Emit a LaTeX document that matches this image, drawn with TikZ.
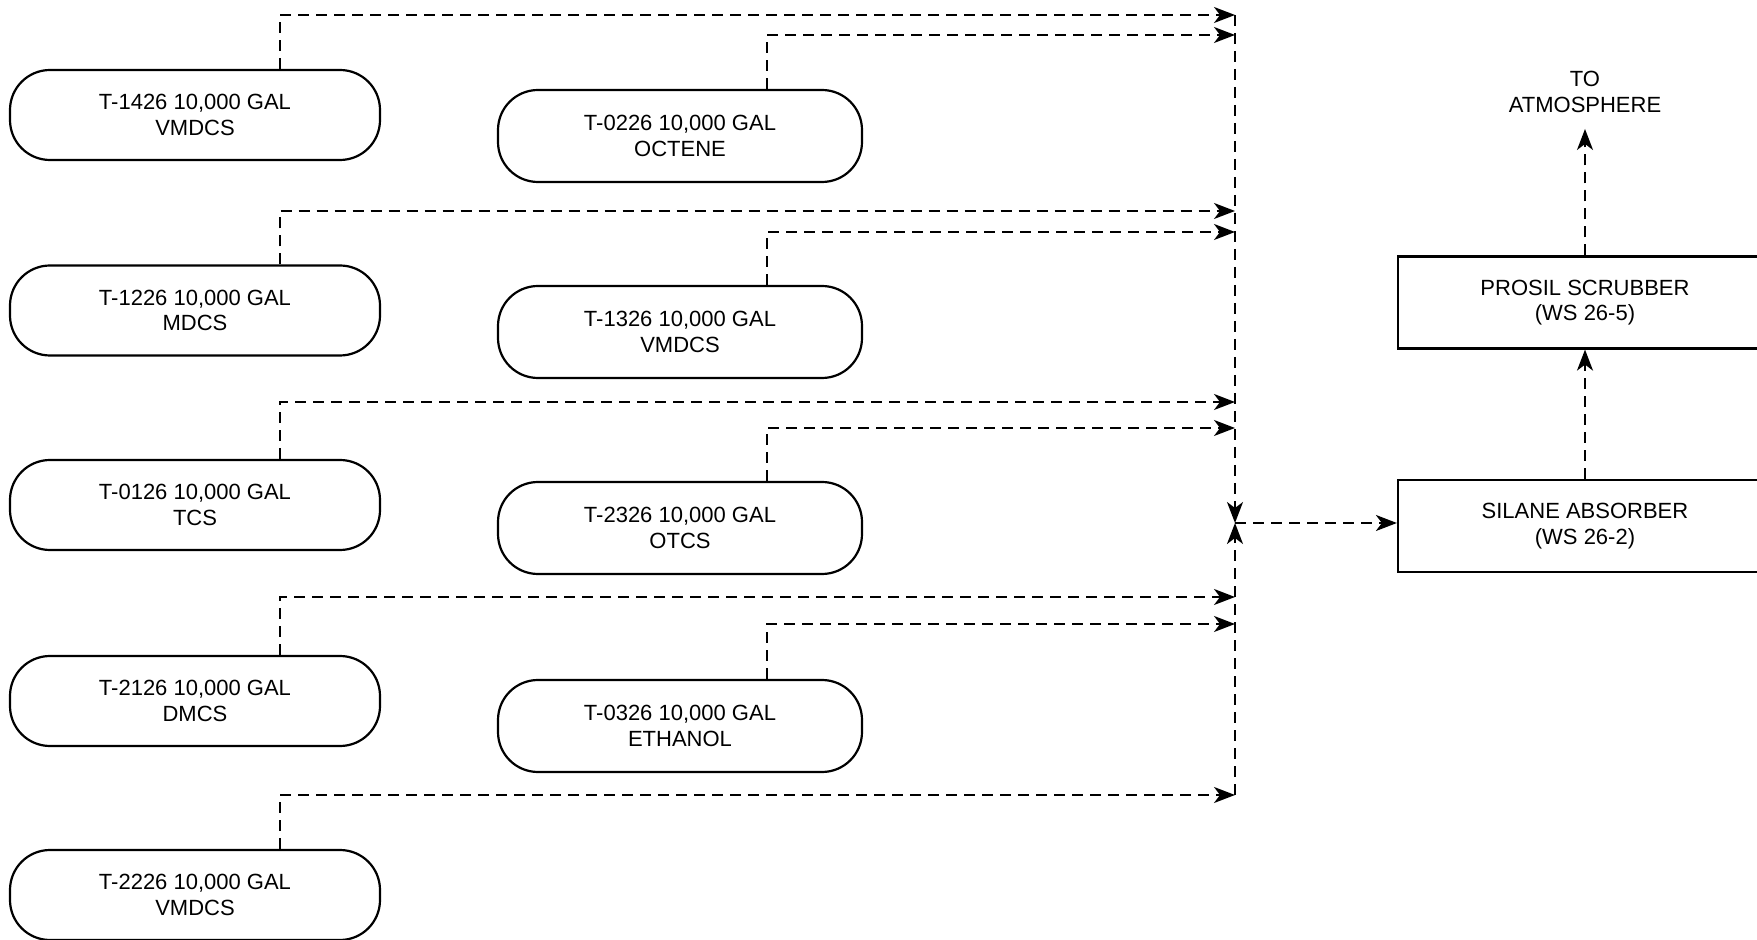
\documentclass[tikz,border=0pt]{standalone}
\usepackage{fontspec}
\setmainfont{Liberation Sans}
\usetikzlibrary{arrows.meta}
\tikzset{
  tank/.style={draw, line width=1.1pt, rounded corners=20pt, align=center,
    minimum width=185pt, minimum height=45pt, inner sep=0pt,
    font=\fontsize{11}{12.8}\selectfont},
  tankb/.style={tank, minimum width=182pt, minimum height=46pt},
  unitbox/.style={draw, line width=1.1pt, align=center,
    minimum width=187pt, minimum height=46pt, inner sep=0pt,
    font=\fontsize{11}{12.8}\selectfont},
  label/.style={align=center, inner sep=0pt, font=\fontsize{11}{12.8}\selectfont},
  flow/.style={dash pattern=on 5.5pt off 3.5pt, line width=1pt,
    -{Stealth[length=10.5pt,width=8pt,inset=3pt]}},
  pipe/.style={dash pattern=on 5.5pt off 3.5pt, line width=1pt}
}
\begin{document}
\begin{tikzpicture}[x=0.5pt,y=-0.5pt]
\useasboundingbox (0,0) rectangle (1757,940);
\fill[white] (0,0) rectangle (1757,940);
% column 1 tanks
\node[tank] (t1) at (195,115) {T-1426 10,000 GAL\\VMDCS};
\node[tank] (t2) at (195,310.5) {T-1226 10,000 GAL\\MDCS};
\node[tank] (t3) at (195,505) {T-0126 10,000 GAL\\TCS};
\node[tank] (t4) at (195,701) {T-2126 10,000 GAL\\DMCS};
\node[tank] (t5) at (195,895) {T-2226 10,000 GAL\\VMDCS};
% column 2 tanks
\node[tankb] (u1) at (680,136) {T-0226 10,000 GAL\\OCTENE};
\node[tankb] (u2) at (680,332) {T-1326 10,000 GAL\\VMDCS};
\node[tankb] (u3) at (680,528) {T-2326 10,000 GAL\\OTCS};
\node[tankb] (u4) at (680,726) {T-0326 10,000 GAL\\ETHANOL};
% treatment units
\node[unitbox] (abs) at (1585,526) {SILANE ABSORBER\\(WS 26-2)};
\node[unitbox] (scr) at (1585,302.5) {PROSIL SCRUBBER\\(WS 26-5)};
\node[label] (atm) at (1585,92) {TO\\ATMOSPHERE};
% bus coordinates
\coordinate (b1) at (1235,15);
\coordinate (b2) at (1235,35);
\coordinate (b3) at (1235,211);
\coordinate (b4) at (1235,232);
\coordinate (b5) at (1235,402);
\coordinate (b6) at (1235,428);
\coordinate (b7) at (1235,597);
\coordinate (b8) at (1235,624);
\coordinate (b9) at (1235,795);
\coordinate (m) at (1235,523);
% feeds
\draw[flow] ([xshift=42.5pt]t1.north) |- (b1);
\draw[flow] ([xshift=43.5pt]u1.north) |- (b2);
\draw[flow] ([xshift=42.5pt]t2.north) |- (b3);
\draw[flow] ([xshift=43.5pt]u2.north) |- (b4);
\draw[flow] ([xshift=42.5pt]t3.north) |- (b5);
\draw[flow] ([xshift=43.5pt]u3.north) |- (b6);
\draw[flow] ([xshift=42.5pt]t4.north) |- (b7);
\draw[flow] ([xshift=43.5pt]u4.north) |- (b8);
\draw[flow] ([xshift=42.5pt]t5.north) |- (b9);
% bus
\draw[flow] (b1) -- (m);
\draw[flow] (b9) -- (m);
\draw[flow] (m) -- (abs.west |- m);
\draw[flow] (abs.north) -- (scr.south);
\draw[flow] (scr.north) -- ([yshift=-8pt]atm.south);
\end{tikzpicture}
\end{document}
